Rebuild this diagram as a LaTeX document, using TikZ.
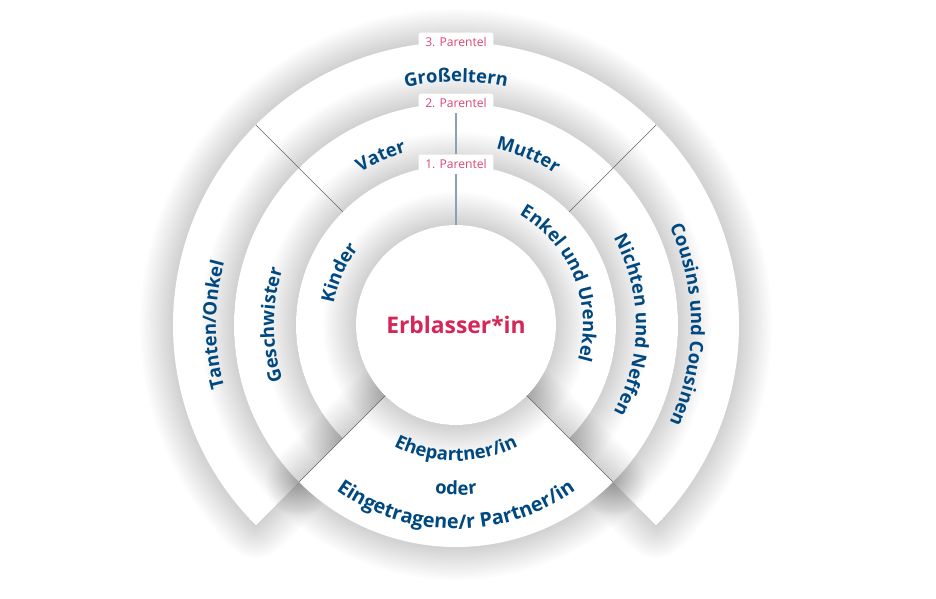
\documentclass[tikz,border=0pt]{standalone}
\usepackage{fontspec}
\setmainfont{Open Sans}
\usetikzlibrary{decorations.text}
\definecolor{erbblue}{RGB}{0,72,128}
\definecolor{erbpink}{RGB}{214,38,88}
\definecolor{stemgray}{RGB}{140,160,182}
\tikzset{
  piece/.style={fill=white},
  shade line/.style={black, opacity=0.011, line join=round, yshift=-1.5pt},
  divider/.style={black!60, line width=0.35pt},
  stem/.style={stemgray, line width=0.7pt},
  parentel/.style={fill=white, rounded corners=1.5pt, minimum width=1.5cm,
                   minimum height=0.38cm, inner sep=0pt, text=erbpink!85,
                   font=\fontsize{6.9}{8}\selectfont},
  cwlabel/.style={decorate, decoration={text along path, text align=center,
                  text color=erbblue, text={|\bfseries\fontsize{10.5}{12}\selectfont|#1}}},
  widelabel/.style={decorate, decoration={text along path, text align=center,
                  text color=erbblue, text={|\bfseries\fontsize{11.3}{13}\selectfont|#1}}},
}
% white piece with a soft shadow round it
\newcommand\castpiece[1]{%
  \foreach \k in {1,...,15} \draw[shade line, line width=\k*2.5pt] #1;
  \fill[piece] #1;
}

\begin{document}
\begin{tikzpicture}[scale=0.02]
  \useasboundingbox (-456,-273) rectangle (480,325);

  % rings, outside in
  \castpiece{(-45:222) arc[start angle=-45, end angle=225, radius=222]
    -- (225:283) arc[start angle=225, end angle=-45, radius=283] -- cycle}
  \castpiece{(-45:160) arc[start angle=-45, end angle=225, radius=160]
    -- (225:222) arc[start angle=225, end angle=-45, radius=222] -- cycle}
  \castpiece{(-45:100) arc[start angle=-45, end angle=225, radius=100]
    -- (225:160) arc[start angle=225, end angle=-45, radius=160] -- cycle}
  % partner sector
  \castpiece{(225:100) arc[start angle=225, end angle=315, radius=100]
    -- (315:222) arc[start angle=315, end angle=225, radius=222] -- cycle}
  % centre
  \castpiece{(0,0) circle[radius=100]}
  \node[circle, minimum size=4cm, inner sep=0pt, text=erbpink,
        font=\bfseries\fontsize{13}{15}\selectfont] (erb) at (0,0) {Erblasser*in};

  % dividers
  \draw[divider] (135:160) -- (135:283);
  \draw[divider] (45:160) -- (45:283);
  \draw[divider] (225:100) -- (225:222);
  \draw[divider] (315:100) -- (315:222);

  % parentel tags
  \node[parentel] (p1) at (90:161) {1. Parentel};
  \node[parentel] (p2) at (90:222) {2. Parentel};
  \node[parentel] (p3) at (90:283) {3. Parentel};
  \draw[stem] (erb.north) -- (p1.south);
  \draw[stem] (p1.north) -- (p2.south);

  % 3. Parentel
  \path[cwlabel={Großeltern}] (150:243) arc[start angle=150, end angle=30, radius=243];
  \path[cwlabel={Tanten/Onkel}] (240:240) arc[start angle=240, end angle=120, radius=240];
  \path[cwlabel={Cousins und Cousinen}] (60:235) arc[start angle=60, end angle=-60, radius=235];

  % 2. Parentel
  \path[cwlabel={Vater}] (150:180) arc[start angle=150, end angle=78, radius=180];
  \path[cwlabel={Mutter}] (103:181) arc[start angle=103, end angle=31, radius=181];
  \path[cwlabel={Geschwister}] (240:182) arc[start angle=240, end angle=120, radius=182];
  \path[cwlabel={Nichten und Neffen}] (60:180) arc[start angle=60, end angle=-60, radius=180];

  % 1. Parentel
  \path[cwlabel={Kinder}] (216:124) arc[start angle=216, end angle=96, radius=124];
  \path[cwlabel={Enkel und Urenkel}] (82:127) arc[start angle=82, end angle=-38, radius=127];

  % partner
  \path[cwlabel={Ehepartner/in}] (200:136) arc[start angle=200, end angle=340, radius=136];
  \path[cwlabel={oder}] (240:170) arc[start angle=240, end angle=300, radius=170];
  \path[widelabel={Eingetragene/r Partner/in}] (200:204) arc[start angle=200, end angle=340, radius=204];
\end{tikzpicture}
\end{document}
